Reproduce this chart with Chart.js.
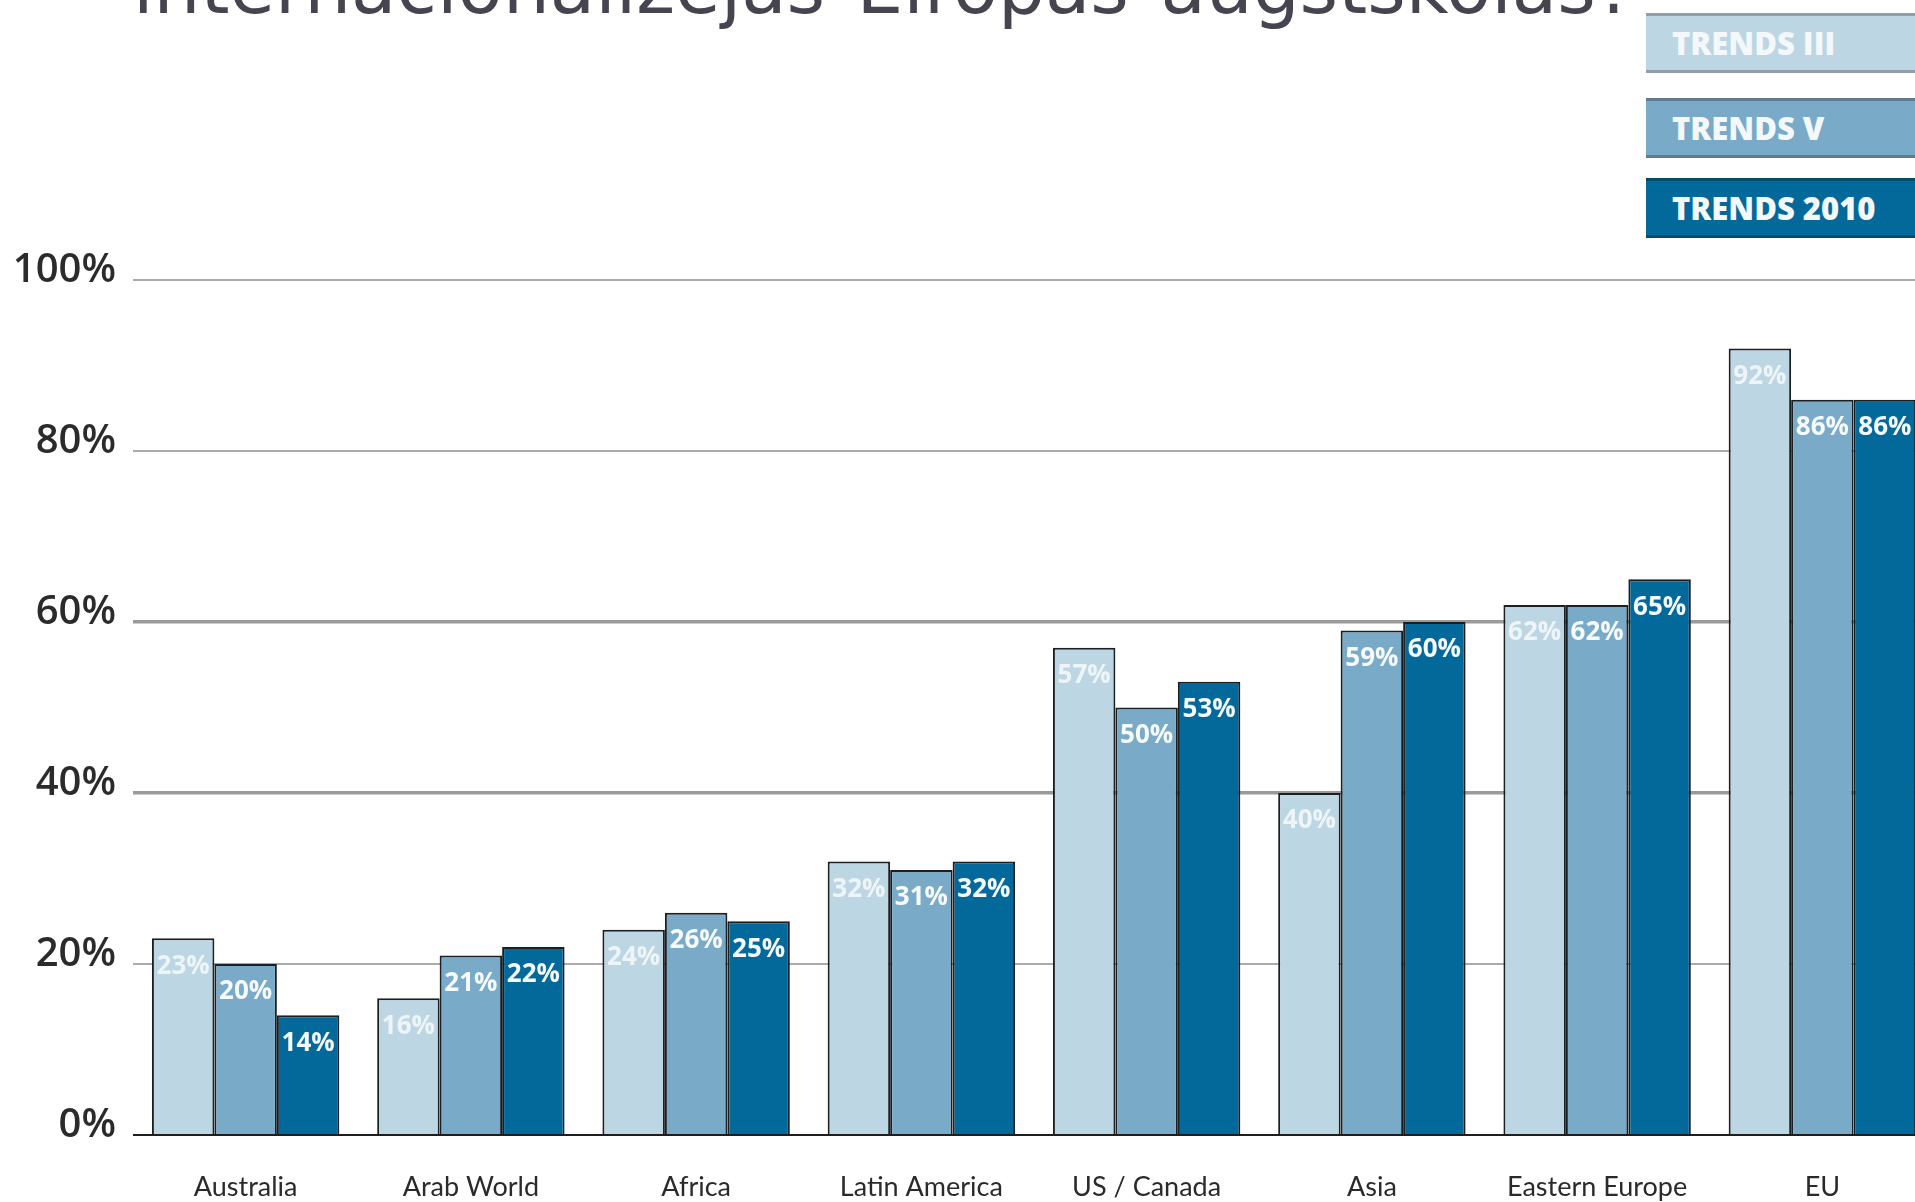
<!DOCTYPE html>
<html>
<head>
    <meta charset="utf-8">
    <title>Internacionalizējas Eiropas augstskolās?</title>
    <style>
        body { margin: 0; background: #fff; overflow: hidden; width: 1915px; height: 1202px; position: relative; }
        #title { position: absolute; left: 133px; top: -50px; font-family: "DejaVu Sans", sans-serif; font-size: 74px; line-height: 74px; word-spacing: 8px; color: #45444f; white-space: nowrap; }
        .legendBox { position: absolute; left: 1646px; width: 300px; height: 60px; box-sizing: border-box;
            font-family: "Open Sans", sans-serif; font-weight: 800; font-size: 31px; line-height: 55px;
            color: #f4f8fa; padding-left: 26px; border-top: 3px solid; border-bottom: 3px solid; }
        #chartWrap { position: absolute; left: 0; top: 0; }
    </style>
    <script src="https://cdn.jsdelivr.net/npm/chart.js"></script>
</head>
<body>

    <div id="title">internacionalizējas Eiropas augstskolās?</div>
    <div id="legend"></div>
    <div id="chartWrap">
        <canvas id="trendsChart" width="1935" height="1202"></canvas>
    </div>

    <script>
        const categories = ['Australia', 'Arab World', 'Africa', 'Latin America', 'US / Canada', 'Asia', 'Eastern Europe', 'EU'];
        const seriesNames = ['TRENDS III', 'TRENDS V', 'TRENDS 2010'];
        const trendsIII = [23, 16, 24, 32, 57, 40, 62, 92];
        const trendsV = [20, 21, 26, 31, 50, 59, 62, 86];
        const trends2010 = [14, 22, 25, 32, 53, 60, 65, 86];
        const yTicks = [0, 20, 40, 60, 80, 100];

        const fills = ['#bdd6e4', '#79abc8', '#03699a'];
        const edges = ['#8f9ea8', '#5d7e92', '#004a6c'];
        const legendTops = [13, 98, 178];

        // legend boxes in the top right corner
        const legendEl = document.getElementById('legend');
        seriesNames.forEach((name, i) => {
            const box = document.createElement('div');
            box.className = 'legendBox';
            box.style.top = legendTops[i] + 'px';
            box.style.background = fills[i];
            box.style.borderColor = edges[i];
            box.textContent = name;
            legendEl.appendChild(box);
        });

        // white value labels just below the top of every bar
        const barLabels = {
            id: 'barLabels',
            afterDatasetsDraw(chart) {
                const ctx = chart.ctx;
                ctx.save();
                ctx.textAlign = 'center';
                ctx.textBaseline = 'middle';
                chart.data.datasets.forEach((ds, di) => {
                    const meta = chart.getDatasetMeta(di);
                    ctx.font = '700 26px "Open Sans", sans-serif';
                    ctx.fillStyle = di === 0 ? 'rgba(255,255,255,0.75)' : '#f6fafc';
                    meta.data.forEach((bar, i) => {
                        ctx.fillText(ds.data[i] + '%', bar.x, bar.y + 28);
                    });
                });
                ctx.restore();
            }
        };

        const datasets = [trendsIII, trendsV, trends2010].map((values, i) => ({
            label: seriesNames[i],
            data: values,
            backgroundColor: fills[i],
            borderColor: '#1b1f22',
            borderWidth: 2,
            borderSkipped: 'bottom',
            categoryPercentage: 0.832,
            barPercentage: 1.0
        }));

        new Chart(document.getElementById('trendsChart').getContext('2d'), {
            type: 'bar',
            data: { labels: categories, datasets: datasets },
            options: {
                responsive: false,
                animation: false,
                layout: { padding: { top: 280, left: 0, right: 0, bottom: 0 } },
                plugins: {
                    legend: { display: false },
                    tooltip: { enabled: false }
                },
                scales: {
                    x: {
                        afterFit: (scale) => { scale.height = 67; },
                        grid: { display: false, drawTicks: false },
                        border: { display: false },
                        ticks: {
                            padding: 36,
                            color: '#2a2a2a',
                            font: { family: 'Lato, sans-serif', size: 27 }
                        }
                    },
                    y: {
                        min: 0,
                        max: 100,
                        afterFit: (scale) => { scale.width = 133; },
                        afterBuildTicks: (scale) => { scale.ticks = yTicks.map(v => ({ value: v })); },
                        border: { display: false },
                        grid: {
                            drawTicks: false,
                            color: (c) => c.tick && c.tick.value === 0 ? '#1e1e1e' : (c.tick && (c.tick.value === 40 || c.tick.value === 60) ? '#9a9a9a' : '#ababab'),
                            lineWidth: (c) => c.tick && (c.tick.value === 40 || c.tick.value === 60) ? 3.5 : 2
                        },
                        ticks: {
                            padding: 17,
                            labelOffset: -9,
                            color: '#2b2b2b',
                            font: { family: '"Open Sans", sans-serif', size: 40, weight: '600' },
                            callback: (v) => v + '%'
                        }
                    }
                }
            },
            plugins: [barLabels]
        });
    </script>

</body>
</html>
